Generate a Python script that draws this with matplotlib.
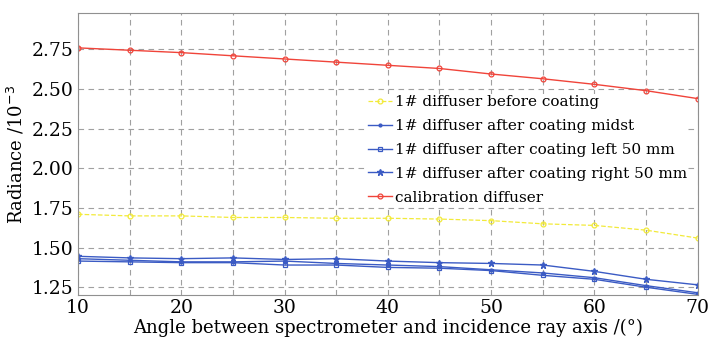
import matplotlib
matplotlib.use("Agg")
import matplotlib.pyplot as plt
from matplotlib.ticker import MultipleLocator

angles = [10, 15, 20, 25, 30, 35, 40, 45, 50, 55, 60, 65, 70]
before = [1.71, 1.70, 1.70, 1.69, 1.69, 1.685, 1.685, 1.68, 1.67, 1.65, 1.64, 1.61, 1.56]
midst = [1.43, 1.42, 1.41, 1.41, 1.415, 1.40, 1.39, 1.38, 1.36, 1.34, 1.31, 1.26, 1.215]
left50 = [1.415, 1.41, 1.405, 1.405, 1.39, 1.39, 1.375, 1.37, 1.355, 1.325, 1.30, 1.25, 1.205]
right50 = [1.445, 1.435, 1.43, 1.435, 1.425, 1.43, 1.415, 1.405, 1.40, 1.39, 1.35, 1.30, 1.265]
calib = [2.76, 2.745, 2.73, 2.71, 2.69, 2.67, 2.65, 2.63, 2.595, 2.565, 2.53, 2.49, 2.44]

RED = "#f0443a"
YEL = "#f2ea3a"
BLUE = "#3b5bc4"

plt.rcParams["font.family"] = ["DejaVu Serif"]

fig = plt.figure(figsize=(7.09, 3.42), dpi=100)
ax = fig.add_axes([0.110, 0.137, 0.874, 0.825])

ax.plot(angles, before, color=YEL, ls="--", lw=0.9, marker="o", ms=3.5,
        mfc="none", mew=0.9, label="1# diffuser before coating")
ax.plot(angles, midst, color=BLUE, lw=1.0, marker=".", ms=4,
        label="1# diffuser after coating midst")
ax.plot(angles, left50, color=BLUE, lw=1.0, marker="s", ms=3.5,
        mfc="none", mew=0.9, label="1# diffuser after coating left 50 mm")
ax.plot(angles, right50, color=BLUE, lw=1.0, marker="*", ms=4.5,
        label="1# diffuser after coating right 50 mm")
ax.plot(angles, calib, color=RED, lw=1.0, marker="o", ms=3.5,
        mfc="none", mew=0.9, label="calibration diffuser")

ax.set_xlim(10, 70)
ax.set_ylim(1.20, 2.98)
ax.xaxis.set_major_locator(MultipleLocator(10))
ax.xaxis.set_minor_locator(MultipleLocator(5))
ax.set_yticks([1.25, 1.50, 1.75, 2.00, 2.25, 2.50, 2.75])
ax.set_yticklabels(["1.25", "1.50", "1.75", "2.00", "2.25", "2.50", "2.75"])
ax.grid(True, which="both", color="#a0a0a0", ls=(0, (5, 4)), lw=0.8)
ax.tick_params(which="both", length=0, labelsize=13.5, pad=3)
for s in ax.spines.values():
    s.set_color("#909090")
    s.set_linewidth(0.8)

ax.set_xlabel("Angle between spectrometer and incidence ray axis /(°)", fontsize=13, labelpad=1)
ax.set_ylabel("Radiance /10$^{-3}$", fontsize=13, labelpad=4)

# white box without edge, kept under the data lines
leg = ax.legend(loc="upper left", bbox_to_anchor=(0.466, 0.712), frameon=True,
                fontsize=11, handlelength=1.6, handletextpad=0.2, labelspacing=0.65,
                borderaxespad=0, borderpad=0.05, fancybox=False)
leg.get_frame().set_facecolor("white")
leg.get_frame().set_edgecolor("none")
leg.get_frame().set_alpha(1)
leg.set_zorder(1.8)

fig.savefig("out.png", dpi=100)
